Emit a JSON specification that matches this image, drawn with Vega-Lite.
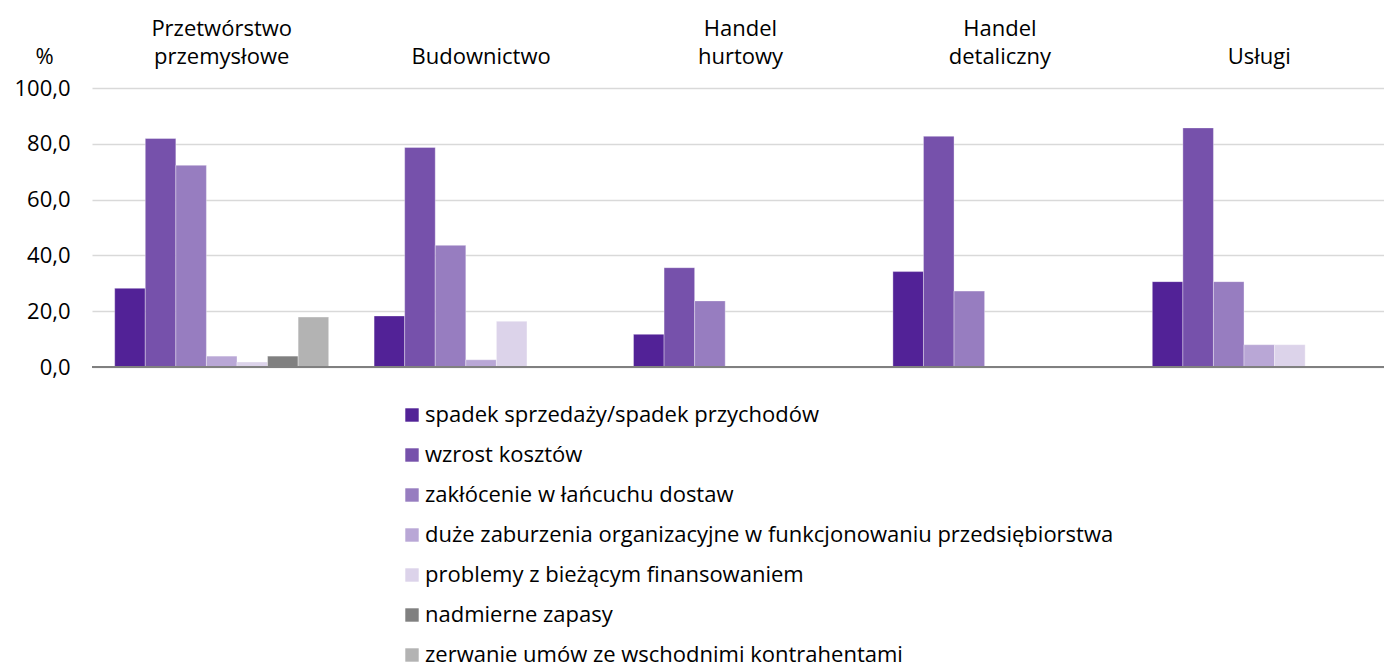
{
  "$schema": "https://vega.github.io/schema/vega-lite/v6.json",
  "autosize": "none",
  "padding": {"left": 92, "top": 88, "right": 0, "bottom": 296},
  "width": 1297,
  "height": 279,
  "background": "white",
  "config": {
    "font": "Open Sans",
    "view": {"stroke": null},
    "axis": {"labelFont": "Open Sans", "labelColor": "#000000", "titleFont": "Open Sans"},
    "legend": {"labelFont": "Open Sans"}
  },
  "data": {
    "values": [
      {"sektor": "Przetwórstwo przemysłowe", "przyczyna": "spadek sprzedaży/spadek przychodów", "wartosc": 28.2},
      {"sektor": "Przetwórstwo przemysłowe", "przyczyna": "wzrost kosztów", "wartosc": 81.9},
      {"sektor": "Przetwórstwo przemysłowe", "przyczyna": "zakłócenie w łańcuchu dostaw", "wartosc": 72.3},
      {"sektor": "Przetwórstwo przemysłowe", "przyczyna": "duże zaburzenia organizacyjne w funkcjonowaniu przedsiębiorstwa", "wartosc": 3.9},
      {"sektor": "Przetwórstwo przemysłowe", "przyczyna": "problemy z bieżącym finansowaniem", "wartosc": 1.8},
      {"sektor": "Przetwórstwo przemysłowe", "przyczyna": "nadmierne zapasy", "wartosc": 3.9},
      {"sektor": "Przetwórstwo przemysłowe", "przyczyna": "zerwanie umów ze wschodnimi kontrahentami", "wartosc": 17.9},
      {"sektor": "Budownictwo", "przyczyna": "spadek sprzedaży/spadek przychodów", "wartosc": 18.3},
      {"sektor": "Budownictwo", "przyczyna": "wzrost kosztów", "wartosc": 78.7},
      {"sektor": "Budownictwo", "przyczyna": "zakłócenie w łańcuchu dostaw", "wartosc": 43.6},
      {"sektor": "Budownictwo", "przyczyna": "duże zaburzenia organizacyjne w funkcjonowaniu przedsiębiorstwa", "wartosc": 2.6},
      {"sektor": "Budownictwo", "przyczyna": "problemy z bieżącym finansowaniem", "wartosc": 16.4},
      {"sektor": "Handel hurtowy", "przyczyna": "spadek sprzedaży/spadek przychodów", "wartosc": 11.7},
      {"sektor": "Handel hurtowy", "przyczyna": "wzrost kosztów", "wartosc": 35.6},
      {"sektor": "Handel hurtowy", "przyczyna": "zakłócenie w łańcuchu dostaw", "wartosc": 23.7},
      {"sektor": "Handel detaliczny", "przyczyna": "spadek sprzedaży/spadek przychodów", "wartosc": 34.2},
      {"sektor": "Handel detaliczny", "przyczyna": "wzrost kosztów", "wartosc": 82.7},
      {"sektor": "Handel detaliczny", "przyczyna": "zakłócenie w łańcuchu dostaw", "wartosc": 27.2},
      {"sektor": "Usługi", "przyczyna": "spadek sprzedaży/spadek przychodów", "wartosc": 30.6},
      {"sektor": "Usługi", "przyczyna": "wzrost kosztów", "wartosc": 85.7},
      {"sektor": "Usługi", "przyczyna": "zakłócenie w łańcuchu dostaw", "wartosc": 30.6},
      {"sektor": "Usługi", "przyczyna": "duże zaburzenia organizacyjne w funkcjonowaniu przedsiębiorstwa", "wartosc": 8.0},
      {"sektor": "Usługi", "przyczyna": "problemy z bieżącym finansowaniem", "wartosc": 8.0}
    ]
  },
  "layer": [
    {
      "mark": {"type": "bar", "stroke": "#ffffff", "strokeOpacity": 0.35, "strokeWidth": 1},
      "encoding": {
        "x": {
          "field": "sektor",
          "type": "nominal",
          "sort": ["Przetwórstwo przemysłowe", "Budownictwo", "Handel hurtowy", "Handel detaliczny", "Usługi"],
          "scale": {"paddingInner": 0.175, "paddingOuter": 0.0875},
          "axis": {
            "orient": "top",
            "title": null,
            "domain": false,
            "ticks": false,
            "labelAngle": 0,
            "labelFontSize": 22,
            "labelPadding": 48,
            "labelLineHeight": 28,
            "labelBaseline": "bottom",
            "labelExpr": "datum.value == 'Przetwórstwo przemysłowe' ? ['Przetwórstwo', 'przemysłowe'] : datum.value == 'Handel hurtowy' ? ['Handel', 'hurtowy'] : datum.value == 'Handel detaliczny' ? ['Handel', 'detaliczny'] : ['', datum.value]"
          }
        },
        "xOffset": {
          "field": "przyczyna",
          "type": "nominal",
          "scale": {
            "domain": ["spadek sprzedaży/spadek przychodów", "wzrost kosztów", "zakłócenie w łańcuchu dostaw", "duże zaburzenia organizacyjne w funkcjonowaniu przedsiębiorstwa", "problemy z bieżącym finansowaniem", "nadmierne zapasy", "zerwanie umów ze wschodnimi kontrahentami"],
            "paddingInner": 0,
            "paddingOuter": 0
          }
        },
        "y": {
          "field": "wartosc",
          "type": "quantitative",
          "scale": {"domain": [0, 100], "nice": false},
          "axis": {
            "values": [0, 20, 40, 60, 80, 100],
            "title": "%",
            "titleAngle": 0,
            "titleFontSize": 22,
            "titleFontWeight": "normal",
            "titleAlign": "center",
            "titleBaseline": "middle",
            "titleX": -48,
            "titleY": -32,
            "domain": false,
            "ticks": false,
            "labelFontSize": 22,
            "labelPadding": 22,
            "gridColor": "#d9d9d9",
            "gridWidth": 1.5,
            "labelExpr": "replace(format(datum.value, '.1f'), '.', ',')"
          }
        },
        "color": {
          "field": "przyczyna",
          "type": "nominal",
          "scale": {
            "domain": ["spadek sprzedaży/spadek przychodów", "wzrost kosztów", "zakłócenie w łańcuchu dostaw", "duże zaburzenia organizacyjne w funkcjonowaniu przedsiębiorstwa", "problemy z bieżącym finansowaniem", "nadmierne zapasy", "zerwanie umów ze wschodnimi kontrahentami"],
            "range": ["#522297", "#7651ab", "#977dc0", "#b9a7d6", "#dcd3ea", "#808080", "#b3b3b3"]
          },
          "legend": {
            "title": null,
            "orient": "none",
            "legendX": 309,
            "legendY": 316,
            "direction": "vertical",
            "symbolType": "square",
            "symbolSize": 180,
            "symbolStrokeWidth": 0,
            "labelFontSize": 22,
            "labelColor": "#000000",
            "labelLimit": 1000,
            "rowPadding": 18,
            "labelOffset": 2
          }
        }
      }
    },
    {
      "mark": {"type": "rule", "color": "#808080", "strokeWidth": 1.5},
      "encoding": {"y": {"datum": 0, "type": "quantitative"}}
    }
  ]
}
